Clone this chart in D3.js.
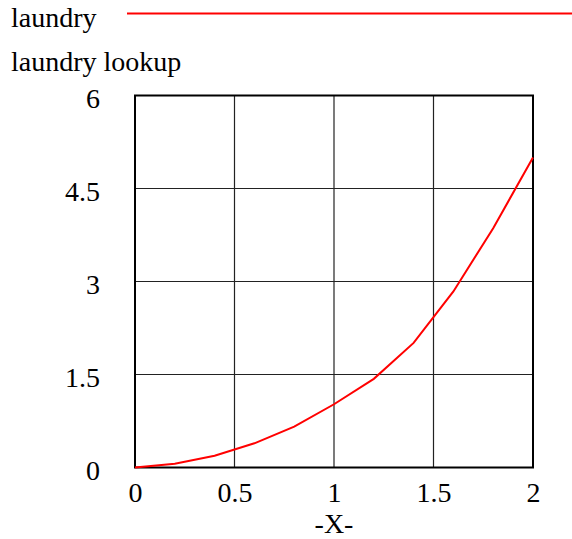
<!DOCTYPE html>
<html><head><meta charset="utf-8"><script src="https://cdn.jsdelivr.net/npm/d3@7"></script></head>
<body style="margin:0">
<svg id="s" width="572" height="539"></svg>
<script>
// ---- data ----
const seriesName = "laundry";
const chartTitle = "laundry lookup";
const xLabel = "-X-";
const xValues = [0, 0.2, 0.4, 0.6, 0.8, 1.0, 1.2, 1.4, 1.6, 1.8, 2.0];
const yValues = [0, 0.06, 0.19, 0.39, 0.66, 1.02, 1.43, 2.01, 2.84, 3.86, 5.0];
const xTicks = [0, 0.5, 1, 1.5, 2];
const yTicks = [0, 1.5, 3, 4.5, 6];

// ---- layout ----
const FONT = "Liberation Serif";
const svg = d3.select("#s");
const pLeft = 135, pRight = 533, pTop = 95.5, pBottom = 467.5;
const fontSize = 28;

const x = d3.scaleLinear().domain([0, 2]).range([pLeft, pRight]);
const y = d3.scaleLinear().domain([0, 6]).range([pBottom, pTop]);

// legend
svg.append("text").attr("x", 11).attr("y", 26.5).attr("font-family", FONT).attr("font-size", 28).text(seriesName);
svg.append("line").attr("x1", 127).attr("x2", 572).attr("y1", 13.5).attr("y2", 13.5)
  .attr("stroke", "#ff0000").attr("stroke-width", 2);
svg.append("text").attr("x", 11).attr("y", 70.5).attr("font-family", FONT).attr("font-size", 28).text(chartTitle);

// grid
const grid = svg.append("g");
grid.selectAll("line.vx").data(xTicks).join("line")
  .attr("x1", d => x(d)).attr("x2", d => x(d)).attr("y1", pTop).attr("y2", pBottom)
  .attr("stroke", "#222").attr("stroke-width", 1.2);
grid.selectAll("line.hy").data(yTicks).join("line")
  .attr("x1", pLeft).attr("x2", pRight).attr("y1", d => y(d)).attr("y2", d => y(d))
  .attr("stroke", "#222").attr("stroke-width", 1.2);

// axes: d3 axes for tick labels, then strip their default sans-serif font
const xAxis = svg.append("g").attr("transform", `translate(0,${pBottom})`)
  .call(d3.axisBottom(x).tickValues(xTicks).tickSize(0).tickPadding(0).tickFormat(d3.format("")));
xAxis.attr("font-family", FONT).attr("font-size", fontSize);
xAxis.select(".domain").remove();
xAxis.selectAll("text").attr("y", 34).attr("dy", null)
  .attr("font-family", FONT).attr("font-size", fontSize).attr("fill", "#000");

const yAxis = svg.append("g").attr("transform", `translate(100,0)`)
  .call(d3.axisLeft(y).tickValues(yTicks).tickSize(0).tickPadding(0).tickFormat(d3.format("")));
yAxis.attr("font-family", FONT).attr("font-size", fontSize);
yAxis.select(".domain").remove();
yAxis.selectAll("text").attr("x", 0).attr("dy", 12)
  .attr("font-family", FONT).attr("font-size", fontSize).attr("fill", "#000");

// frame
svg.append("rect").attr("x", pLeft).attr("y", pTop).attr("width", pRight - pLeft).attr("height", pBottom - pTop)
  .attr("fill", "none").attr("stroke", "#000").attr("stroke-width", 2);

// x label
svg.append("text").attr("x", x(1)).attr("y", 533).attr("text-anchor", "middle")
  .attr("font-family", FONT).attr("font-size", fontSize).text(xLabel);

// series line
const pts = xValues.map((v, i) => [v, yValues[i]]);
svg.append("path").datum(pts)
  .attr("fill", "none").attr("stroke", "#ff0000").attr("stroke-width", 2)
  .attr("d", d3.line().x(d => x(d[0])).y(d => y(d[1])));
</script>
</body></html>
